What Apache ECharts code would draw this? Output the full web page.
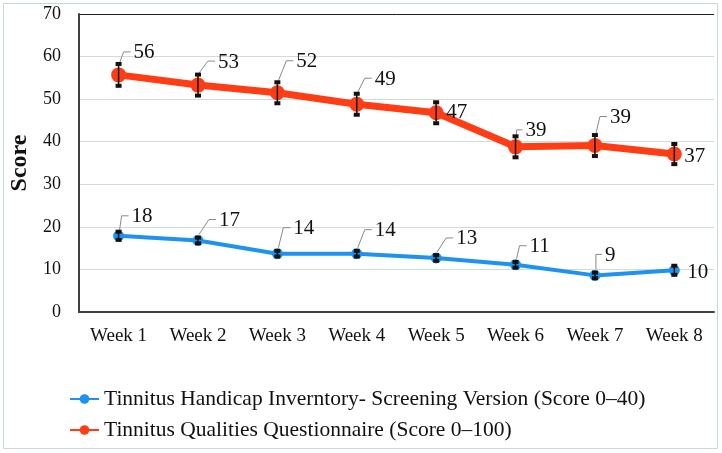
<!DOCTYPE html>
<html>
<head>
<meta charset="utf-8">
<script src="https://cdn.jsdelivr.net/npm/echarts@6/dist/echarts.min.js"></script>
<style>
html,body{margin:0;padding:0;background:#fff;}
#c{width:722px;height:453px;}
</style>
</head>
<body>
<div id="c"></div>
<script>
// ---- data ----
const categories = ['Week 1','Week 2','Week 3','Week 4','Week 5','Week 6','Week 7','Week 8'];
const thiName = 'Tinnitus Handicap Inverntory- Screening Version (Score 0\u201340)';
const tqqName = 'Tinnitus Qualities Questionnaire (Score 0\u2013100)';
const thiValues = [17.9, 16.8, 13.7, 13.7, 12.7, 11.1, 8.6, 9.8];
const thiErrors = [1.2, 0.9, 0.9, 0.9, 0.9, 0.9, 0.9, 1.3];
const tqqValues = [55.7, 53.3, 51.5, 48.8, 46.8, 38.8, 39.1, 37.1];
const tqqErrors = [2.8, 2.7, 2.7, 2.7, 2.7, 2.7, 2.7, 2.6];
const yTicks = [0, 10, 20, 30, 40, 50, 60, 70];

// ---- label placement (layout only) ----
const tqqLabelOffset = [[15,-22],[20,-23],[19,-31],[18,-25],[10,0],[10,-16],[15,-28],[10,2]];
const tqqLeader = [true,true,true,true,false,true,true,false];
const thiLabelOffset = [[13,-19],[21,-20],[16,-25],[18,-23],[20,-19],[14,-18],[10,-20],[13,2]];
const thiLeader = [true,true,true,true,true,true,true,false];

const FONT = '"Liberation Serif", "Times New Roman", serif';
const RED = '#FF3D14';
const BLUE = '#1E92EE';

function makeOverlay(offsets, leaders, startDy) {
  return function (params, api) {
    const i = params.dataIndex;
    const x = api.value(0), v = api.value(1), e = api.value(2);
    const p = api.coord([x, v]);
    const top = api.coord([x, v + e]);
    const bot = api.coord([x, v - e]);
    const children = [];
    // error bar
    children.push({type:'line', shape:{x1:p[0], y1:top[1], x2:p[0], y2:bot[1]}, style:{stroke:'#111', lineWidth:1.5}, z2: 5});
    children.push({type:'rect', shape:{x:p[0]-3, y:top[1]-1, width:6, height:4}, style:{fill:'#111'}, z2: 5});
    children.push({type:'rect', shape:{x:p[0]-3, y:bot[1]-3, width:6, height:4}, style:{fill:'#111'}, z2: 5});
    const off = offsets[i];
    const tl = p[0] + off[0];
    const cy = p[1] + off[1];
    if (leaders[i]) {
      let cx = tl - 10;
      const sx = p[0] + 1;
      if (cx < sx) cx = sx;
      children.push({type:'polyline', shape:{points:[[sx, p[1] + startDy],[cx, cy - 1],[tl - 3, cy - 1]]}, style:{stroke:'#8a8a8a', lineWidth:1, fill:null}, z2: 4});
    }
    children.push({type:'text', x: tl, y: cy, style:{text: String(Math.round(v)), fill:'#111', font: '21px ' + FONT, align:'left', verticalAlign:'middle'}, z2: 6});
    return {type:'group', children: children};
  };
}

const chart = echarts.init(document.getElementById('c'), null, {renderer:'canvas'});
chart.setOption({
  animation: false,
  backgroundColor: '#fff',
  graphic: [{type:'rect', shape:{x:3.5, y:3.5, width:714, height:445}, style:{fill:null, stroke:'#c9d9d9', lineWidth:1}, silent:true, z:-10}],
  grid: {left: 71, top: 14, right: 8, bottom: 141, containLabel: false},
  legend: {
    data: [thiName, tqqName],
    orient: 'vertical',
    left: 64, top: 383,
    itemWidth: 29, itemHeight: 12, itemGap: 9,
    textStyle: {fontFamily: FONT, fontSize: 21.5, color:'#111'}
  },
  xAxis: {
    type: 'category',
    data: categories,
    boundaryGap: true,
    axisTick: {show:false},
    axisLine: {lineStyle: {color:'#404040', width:2}},
    axisLabel: {fontFamily: FONT, fontSize: 19, color:'#111', margin: 15}
  },
  yAxis: {
    type: 'value',
    min: yTicks[0], max: yTicks[yTicks.length-1], interval: 10,
    name: 'Score', nameLocation: 'middle', nameGap: 38,
    nameTextStyle: {fontFamily: FONT, fontSize: 24, fontWeight:'bold', color:'#111'},
    axisLine: {show:true, lineStyle: {color:'#404040', width:2}},
    axisTick: {show:false},
    axisLabel: {fontFamily: FONT, fontSize: 18, color:'#111', margin: 18},
    splitLine: {lineStyle: {color: ['#cfdcdc','#cfdcdc','#cfdcdc','#cfdcdc','#cfdcdc','#cfdcdc','#cfdcdc','#222'], width: 1}}
  },
  series: [
    {
      name: thiName, type:'line', data: thiValues,
      symbol:'circle', symbolSize: 11,
      lineStyle:{color: BLUE, width: 4}, itemStyle:{color: BLUE}, z: 3
    },
    {
      name: tqqName, type:'line', data: tqqValues,
      symbol:'circle', symbolSize: 15,
      lineStyle:{color: RED, width: 7}, itemStyle:{color: RED}, z: 3
    },
    {
      name: 'thi-err', type:'custom', z: 5,
      data: thiValues.map((v,i)=>[i, v, thiErrors[i]]),
      renderItem: makeOverlay(thiLabelOffset, thiLeader, -6),
      encode: {x:0, y:1}
    },
    {
      name: 'tqq-err', type:'custom', z: 5,
      data: tqqValues.map((v,i)=>[i, v, tqqErrors[i]]),
      renderItem: makeOverlay(tqqLabelOffset, tqqLeader, -12),
      encode: {x:0, y:1}
    }
  ]
});
</script>
</body>
</html>
